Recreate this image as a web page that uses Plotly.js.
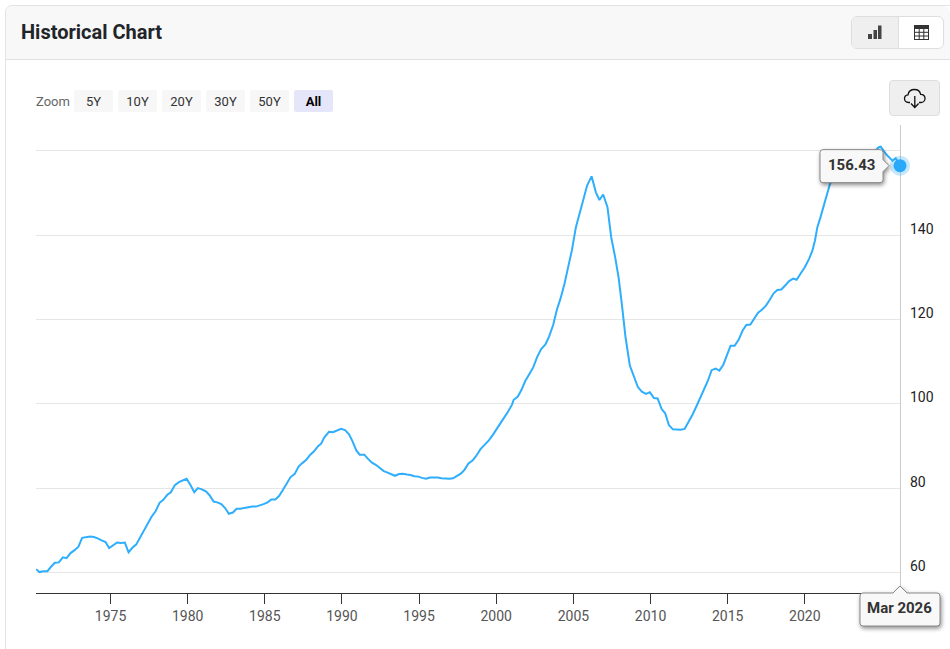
<!DOCTYPE html>
<html>
<head>
<meta charset="utf-8">
<script src="https://cdn.plot.ly/plotly-3.0.1.min.js"></script>
<style>
html,body{margin:0;padding:0;background:#fff;font-family:Roboto,sans-serif;}
body{width:950px;height:649px;overflow:hidden;position:relative;}
#card{position:absolute;left:5px;top:5px;width:960px;height:700px;border:1px solid #e3e3e3;border-radius:7px;box-sizing:border-box;}
#head{position:absolute;left:6px;top:6px;right:0;height:53px;background:#f8f8f8;border-bottom:1px solid #e0e0e0;border-radius:7px 7px 0 0;}
#title{position:absolute;left:21px;top:20px;font-size:20px;line-height:24px;font-weight:700;color:#212529;}
#toggle{position:absolute;left:851px;top:16px;width:93px;height:33px;box-sizing:border-box;border:1px solid #dedede;border-radius:6px;background:#fff;overflow:hidden;}
#toggle .a{position:absolute;left:0;top:0;width:46px;height:31px;background:#efefef;border-right:1px solid #dedede;}
#toggle svg{position:absolute;top:7px;}
#dl{position:absolute;left:889px;top:80px;width:51px;height:36px;box-sizing:border-box;border:1px solid #dedede;border-radius:4px;background:#efefef;}
#dl svg{position:absolute;left:13px;top:5px;}
.zl{position:absolute;left:36px;top:90px;height:22px;line-height:23px;font-size:13px;color:#666;}
.zb{position:absolute;top:90px;width:39px;height:22px;line-height:23px;text-align:center;font-size:13px;color:#333;background:#f7f7f7;border-radius:2px;}
.zb.on{background:#e6e6fb;color:#000;font-weight:700;}
#chart{position:absolute;left:0;top:0;width:950px;height:649px;}
g.shapelayer path{filter:drop-shadow(1px 2px 2px rgba(0,0,0,.45));}
</style>
</head>
<body>
<div id="card"></div>
<div id="head"></div>
<div id="title">Historical Chart</div>
<div id="toggle"><div class="a"></div>
<svg style="left:15px" width="16" height="16" viewBox="0 0 16 16"><rect x="1" y="10" width="4" height="5" fill="#444"/><rect x="6.5" y="6" width="3.5" height="9" fill="#444"/><rect x="11" y="1.5" width="3.5" height="13.5" fill="#444"/></svg>
<svg style="left:61px" width="17" height="17" viewBox="0 0 17 17"><rect x="1.5" y="1.5" width="14" height="14" fill="none" stroke="#333" stroke-width="1"/><rect x="1.5" y="1.5" width="14" height="3.5" fill="#333"/><path d="M1.5 8.3H15.5M1.5 12H15.5M6.2 5V15.5M10.8 5V15.5" stroke="#333" stroke-width="1"/></svg>
</div>
<div id="dl"><svg width="24" height="24" viewBox="0 0 24 24"><path d="M7 16.5H5.5C3 16.5 1.5 14.6 1.5 12.6C1.5 10.5 3 9 5 8.8C5.5 5.5 8.3 3.5 11.5 3.5C14.5 3.5 17 5.4 17.7 8.3C20.4 8.4 22 10.4 22 12.5C22 14.8 20.2 16.5 18 16.5H16" fill="none" stroke="#111" stroke-width="1.3"/><path d="M11.8 10V21M8 17.5L11.8 21.5L15.6 17.5" fill="none" stroke="#111" stroke-width="1.3"/></svg></div>
<div class="zl">Zoom</div>
<div class="zb" style="left:74px">5Y</div>
<div class="zb" style="left:118px">10Y</div>
<div class="zb" style="left:162px">20Y</div>
<div class="zb" style="left:206px">30Y</div>
<div class="zb" style="left:250px">50Y</div>
<div class="zb on" style="left:294px">All</div>
<div id="chart"></div>
<script>
const years = [1970.18,1970.39,1970.65,1970.91,1971.13,1971.39,1971.65,1971.91,1972.15,1972.41,1972.67,1972.92,1973.16,1973.42,1973.68,1973.92,1974.17,1974.42,1974.68,1974.91,1975.17,1975.43,1975.67,1975.93,1976.17,1976.43,1976.66,1976.92,1977.16,1977.42,1977.66,1977.92,1978.18,1978.42,1978.68,1978.91,1979.17,1979.43,1979.67,1979.93,1980.17,1980.43,1980.66,1980.92,1981.18,1981.42,1981.68,1981.92,1982.18,1982.44,1982.67,1982.93,1983.17,1983.43,1983.67,1983.93,1984.19,1984.43,1984.68,1984.92,1985.18,1985.42,1985.68,1985.92,1986.15,1986.43,1986.67,1986.93,1987.19,1987.43,1987.69,1987.95,1988.19,1988.45,1988.65,1988.86,1989.16,1989.42,1989.68,1989.94,1990.2,1990.46,1990.68,1990.93,1991.15,1991.45,1991.69,1991.95,1992.19,1992.45,1992.71,1992.92,1993.2,1993.44,1993.7,1993.94,1994.22,1994.44,1994.7,1994.96,1995.19,1995.45,1995.71,1995.95,1996.21,1996.45,1996.71,1996.97,1997.2,1997.44,1997.7,1997.94,1998.2,1998.46,1998.7,1998.98,1999.24,1999.52,1999.78,2000.01,2000.27,2000.5,2000.75,2001.03,2001.13,2001.39,2001.63,2001.89,2002.15,2002.39,2002.65,2002.91,2003.19,2003.43,2003.69,2003.93,2004.17,2004.42,2004.66,2004.9,2005.16,2005.42,2005.66,2005.89,2006.18,2006.46,2006.69,2006.93,2007.21,2007.45,2007.71,2007.93,2008.14,2008.38,2008.66,2008.92,2009.18,2009.44,2009.7,2009.96,2010.22,2010.46,2010.72,2010.95,2011.19,2011.45,2011.71,2011.95,2012.21,2012.47,2012.71,2012.97,2013.2,2013.46,2013.72,2013.96,2014.22,2014.46,2014.72,2014.98,2015.19,2015.45,2015.71,2015.97,2016.21,2016.47,2016.71,2016.97,2017.22,2017.48,2017.72,2017.98,2018.22,2018.48,2018.74,2018.98,2019.25,2019.47,2019.73,2019.99,2020.27,2020.49,2020.66,2020.81,2021.0,2021.18,2021.42,2021.63,2021.9,2022.2,2022.5,2022.8,2023.1,2023.5,2023.9,2024.2,2024.5,2024.8,2024.92,2025.25,2025.68,2025.89,2026.17];
const values = [60.9,60.2,60.4,60.4,61.4,62.4,62.5,63.7,63.5,64.7,65.4,66.2,68.3,68.4,68.6,68.5,68.2,67.7,67.3,65.9,66.5,67.2,67.1,67.2,64.9,66.0,66.7,68.5,70.2,72.0,73.3,74.6,76.6,77.3,78.5,79.1,80.8,81.5,81.8,82.3,80.9,79.1,80.1,79.8,79.3,78.4,76.9,76.7,76.3,75.3,74.0,74.3,75.2,75.2,75.4,75.6,75.7,75.7,76.1,76.3,76.7,77.4,77.4,78.2,79.5,81.4,82.7,83.4,85.2,86.0,86.8,88.0,88.8,90.0,90.6,92.1,93.4,93.3,93.8,94.1,93.8,92.8,91.2,89.0,88.0,88.0,87.0,86.1,85.6,84.8,84.1,83.8,83.3,83.0,83.4,83.5,83.3,83.2,82.9,82.8,82.5,82.3,82.6,82.6,82.6,82.4,82.3,82.3,82.4,82.9,83.5,84.4,85.9,86.6,87.7,89.3,90.3,91.4,92.7,93.9,95.3,96.7,98.1,99.9,101.0,101.7,103.3,105.5,107.1,108.6,111.1,113.0,114.1,116.0,118.7,122.3,125.0,128.4,132.4,136.3,141.8,145.4,148.6,151.7,153.9,150.1,148.3,149.6,146.6,139.5,134.7,130.0,123.7,115.8,109.1,106.3,104.0,102.9,102.4,102.8,101.4,101.3,98.8,97.8,95.0,94.0,93.9,93.9,94.1,95.7,97.4,99.4,101.2,103.2,105.5,108.0,108.4,107.9,109.3,111.8,113.8,113.8,115.2,117.4,118.7,118.8,120.1,121.6,122.3,123.3,124.6,126.2,127.0,127.1,128.1,129.1,129.7,129.4,130.9,132.3,134.3,136.3,138.7,141.8,144.0,146.5,149.3,152.1,154.0,155.8,157.0,157.5,157.4,158.0,158.6,159.2,159.8,160.8,160.9,159.2,157.6,158.2,156.43];
const lastYear = [2026.17];
const lastValue = [156.43];
const xTicks = [1975,1980,1985,1990,1995,2000,2005,2010,2015,2020,2025];
const xTickLabels = ['1975','1980','1985','1990','1995','2000','2005','2010','2015','2020',''];
const yTicks = [60,80,100,120,140,160];
const yLabelTicks = [60,80,100,120,140];
const valueLabel = '156.43';
const dateLabel = 'Mar 2026';

function boxPath(l,r,t,b,rad,tip){
  // y is up in pixel-sized shapes, so t and b are negated
  const Y=v=>-v; let p=`M${l+rad},${Y(t)} `;
  if(tip&&tip.side==='top'){p+=`L${-7},${Y(t)} L0,${Y(tip.at)} L7,${Y(t)} `;}
  p+=`L${r-rad},${Y(t)} Q${r},${Y(t)} ${r},${Y(t+rad)} `;
  if(tip&&tip.side==='right'){p+=`L${r},${Y(-6)} L${tip.at},0 L${r},${Y(6)} `;}
  p+=`L${r},${Y(b-rad)} Q${r},${Y(b)} ${r-rad},${Y(b)} L${l+rad},${Y(b)} Q${l},${Y(b)} ${l},${Y(b-rad)} L${l},${Y(t+rad)} Q${l},${Y(t)} ${l+rad},${Y(t)} Z`;
  return p;
}
const boxStyle={fillcolor:'#f8f8f8',line:{color:'#8a8a8a',width:1},layer:'above'};

const yLabelNotes = yLabelTicks.map(v=>({xref:'paper',yref:'y',x:1,y:v,text:String(v),showarrow:false,xanchor:'left',yanchor:'middle',xshift:8,yshift:6.5,font:{size:14,color:'#222',family:'Roboto, sans-serif'}}));

Plotly.newPlot('chart',[
 {x:years,y:values,type:'scatter',mode:'lines',line:{color:'#2eaefc',width:2,shape:'linear'},hoverinfo:'skip',showlegend:false},
 {x:lastYear,y:lastValue,type:'scatter',mode:'markers',marker:{color:'rgba(46,174,252,0.28)',size:20},hoverinfo:'skip',showlegend:false,cliponaxis:false},
 {x:lastYear,y:lastValue,type:'scatter',mode:'markers',marker:{color:'#2aa9fb',size:13},hoverinfo:'skip',showlegend:false,cliponaxis:false}
],{
 width:950,height:649,
 margin:{l:36,r:49.5,t:125,b:56,pad:0},
 paper_bgcolor:'rgba(0,0,0,0)',plot_bgcolor:'rgba(0,0,0,0)',
 font:{family:'Roboto, sans-serif',size:14,color:'#555'},
 showlegend:false,
 xaxis:{type:'linear',range:[1970.17,2026.17],tickvals:xTicks,ticktext:xTickLabels,showgrid:false,zeroline:false,
   showline:true,linecolor:'#333',linewidth:1,ticks:'outside',ticklen:10,tickcolor:'#333',tickwidth:1,tickfont:{size:14,color:'#555'}},
 yaxis:{type:'linear',side:'right',range:[55.25,166.05],tickvals:yTicks,showticklabels:false,gridcolor:'#e6e6e6',gridwidth:1,zeroline:false,
   showline:true,linecolor:'#ccc',linewidth:1,ticks:'',layer:'below traces'},
 shapes:[
  Object.assign({type:'path',xref:'x',yref:'y',xsizemode:'pixel',ysizemode:'pixel',xanchor:lastYear[0],yanchor:lastValue[0],path:boxPath(-80,-17,-16,17,3,{side:'right',at:-11})},boxStyle),
  Object.assign({type:'path',xref:'paper',yref:'paper',xsizemode:'pixel',ysizemode:'pixel',xanchor:1,yanchor:0,path:boxPath(-40,40,0,33,3,{side:'top',at:-7})},boxStyle)
 ],
 annotations:[
  {xref:'x',yref:'y',x:lastYear[0],y:lastValue[0],text:'<b>'+valueLabel+'</b>',showarrow:false,xanchor:'center',yanchor:'middle',xshift:-49,yshift:1,font:{size:15,color:'#333',family:'Roboto, sans-serif'}},
  {xref:'paper',yref:'paper',x:1,y:0,text:'<b>'+dateLabel+'</b>',showarrow:false,xanchor:'center',yanchor:'middle',xshift:-1,yshift:-15,font:{size:15,color:'#333',family:'Roboto, sans-serif'}}
 ].concat(yLabelNotes)
},{displayModeBar:false,staticPlot:true});
</script>
</body>
</html>
